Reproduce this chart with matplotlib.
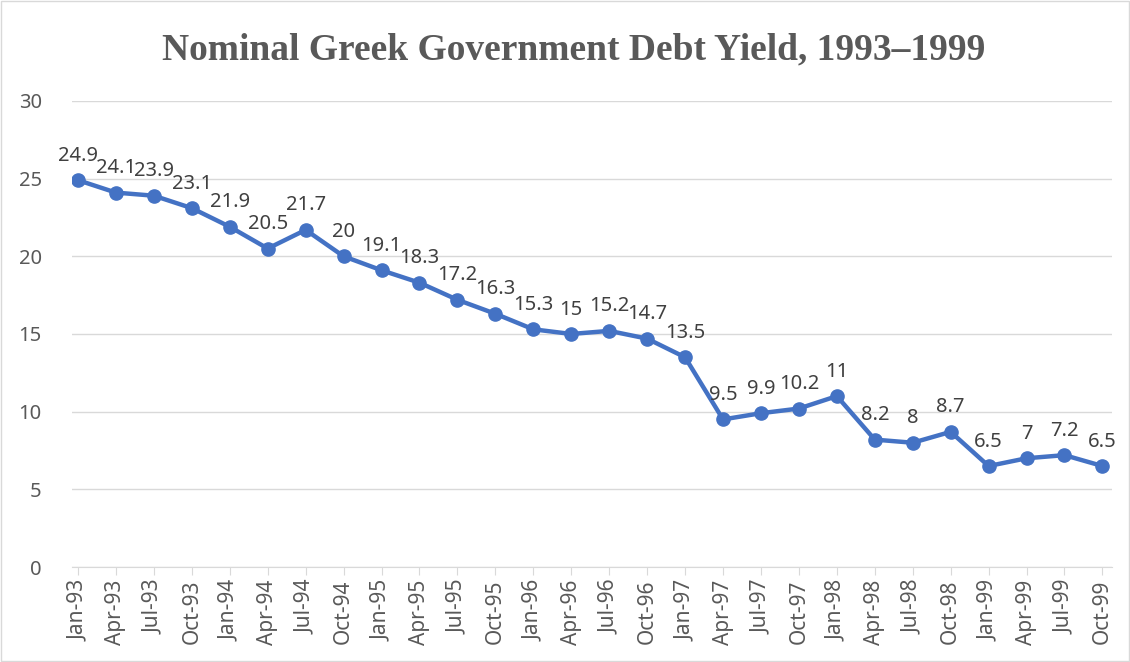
import matplotlib.pyplot as plt
from matplotlib.patches import Rectangle

quarters = ["Jan-93", "Apr-93", "Jul-93", "Oct-93",
            "Jan-94", "Apr-94", "Jul-94", "Oct-94",
            "Jan-95", "Apr-95", "Jul-95", "Oct-95",
            "Jan-96", "Apr-96", "Jul-96", "Oct-96",
            "Jan-97", "Apr-97", "Jul-97", "Oct-97",
            "Jan-98", "Apr-98", "Jul-98", "Oct-98",
            "Jan-99", "Apr-99", "Jul-99", "Oct-99"]
yields = [24.9, 24.1, 23.9, 23.1,
          21.9, 20.5, 21.7, 20,
          19.1, 18.3, 17.2, 16.3,
          15.3, 15, 15.2, 14.7,
          13.5, 9.5, 9.9, 10.2,
          11, 8.2, 8, 8.7,
          6.5, 7, 7.2, 6.5]

plt.rcParams['font.family'] = ['Noto Sans', 'DejaVu Sans']

fig = plt.figure(figsize=(11.3, 6.62), dpi=100)
ax = fig.add_axes([0.064, 0.1435, 0.92, 0.704])

x = range(len(quarters))
ax.plot(x, yields, color='#4472C4', lw=3.2, marker='o', ms=9.5, zorder=3,
        solid_capstyle='round')

for i, v in enumerate(yields):
    ax.annotate('%g' % v, (i, v), xytext=(0, 14), textcoords='offset points',
                ha='center', va='baseline', fontsize=14.5, color='#404040')

ax.set_ylim(0, 30)
ax.set_yticks(range(0, 31, 5))
ax.set_xlim(-0.15, len(quarters) - 1 + 0.25)
ax.set_xticks(list(x))
ax.set_xticklabels(quarters, rotation=90)
ax.grid(axis='y', color='#d9d9d9', lw=1)
ax.set_axisbelow(True)
for s in ['top', 'right', 'left']:
    ax.spines[s].set_visible(False)
ax.spines['bottom'].set_color('#d9d9d9')
ax.tick_params(axis='y', length=0, pad=22, labelsize=14.5, labelcolor='#595959')
ax.tick_params(axis='x', length=6, color='#d9d9d9', labelsize=15,
               labelcolor='#595959', pad=3)

fig.text(0.508, 0.925, 'Nominal Greek Government Debt Yield, 1993\u20131999',
         ha='center', va='center', family='Liberation Serif', weight='bold',
         fontsize=27, color='#595959')

# thin frame around the chart area
fig.patches.append(Rectangle((0.001, 0.001), 0.998, 0.997, transform=fig.transFigure,
                             fill=False, edgecolor='#d9d9d9', lw=1))

plt.savefig('out.png')
